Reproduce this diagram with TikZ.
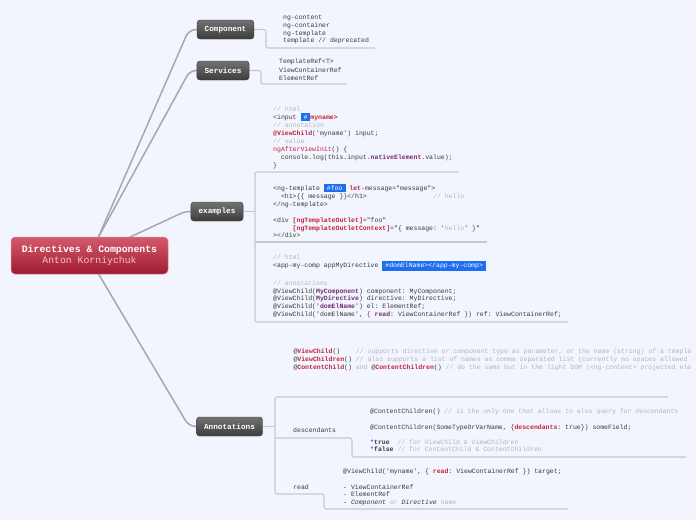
\documentclass[tikz,border=0pt]{standalone}
\usepackage{fontspec}
\setmonofont{Liberation Mono}
\usetikzlibrary{backgrounds}
\definecolor{bgc}{HTML}{F2F5FD}
\definecolor{codetext}{HTML}{3A3A3A}
\definecolor{cmtgray}{HTML}{B2B5C0}
\definecolor{kwred}{HTML}{C4203E}
\definecolor{kwpur}{HTML}{762A6E}
\definecolor{hlblue}{HTML}{1E6EF0}
\definecolor{conngray}{HTML}{A8A8A8}
\definecolor{linegray}{HTML}{C6C8D0}
\definecolor{rootTop}{HTML}{D45A6C}
\definecolor{rootBot}{HTML}{A01A30}
\definecolor{rootSub}{HTML}{F4C2CC}
\definecolor{nodeTop}{HTML}{727272}
\definecolor{nodeBot}{HTML}{3C3C3C}
\newcommand\redkw[1]{\textcolor{kwred}{\bfseries #1}}
\newcommand\purkw[1]{\textcolor{kwpur}{\bfseries #1}}
\newcommand\grycm[1]{\textcolor{cmtgray}{#1}}
\newcommand\bluehl[1]{{\setlength\fboxsep{1.7pt}\colorbox{hlblue}{\hspace{1.3pt}\textcolor{white}{#1}\hspace{1.3pt}}}}
\begin{document}
\begin{tikzpicture}[x=1pt,y=-1pt,
  mainnode/.style={rounded corners=3pt, top color=nodeTop, bottom color=nodeBot,
    draw=nodeBot, line width=0.4pt, text=white,
    font=\fontsize{7.7}{9}\selectfont\ttfamily\bfseries,
    minimum height=19pt, inner xsep=7.6pt, inner ysep=0pt},
  rootnode/.style={rounded corners=4pt, top color=rootTop, bottom color=rootBot,
    draw=rootTop!70!white, line width=0.5pt, text=white, align=center,
    font=\fontsize{9.8}{11.7}\selectfont\ttfamily,
    minimum width=157pt, minimum height=37pt, inner sep=0pt},
  code/.style={anchor=base west, inner sep=0pt,
    font=\fontsize{6.5}{8}\selectfont\ttfamily, text=codetext},
  conn/.style={draw=conngray, line width=1.5pt},
  branch/.style={draw=linegray, line width=1.1pt, rounded corners=2pt}]
\useasboundingbox (0,0) rectangle (696,520);

% main nodes
\node[rootnode] (root) at (89.5,255.5) {{\bfseries Directives \& Components}\\\textcolor{rootSub}{Anton Korniychuk}};
\node[mainnode] (comp) at (225.5,29.5) {Component};
\node[mainnode] (serv) at (223,70.5) {Services};
\node[mainnode] (exam) at (217,211.5) {examples};
\node[mainnode] (anno) at (229.5,426.5) {Annotations};

% Component texts
\node[code] (c1) at (283,19.8) {ng-content};
\node[code] (c2) at (283,27.5) {ng-container};
\node[code] (c3) at (283,35.2) {ng-template};
\node[code] (c4) at (283,42.9) {template // deprecated};

% Services texts
\node[code] (s1) at (279,63.8) {TemplateRef<T>};
\node[code] (s2) at (279,72) {ViewContainerRef};
\node[code] (s3) at (279,80) {ElementRef};

% examples block 1
\node[code] (ea1) at (273,111.3) {\grycm{// html}};
\node[code] (ea2) at (273,119.3) {<input~\bluehl{\#}\redkw{myname>}};
\node[code] (ea3) at (273,127.3) {\grycm{// annotation}};
\node[code] (ea4) at (273,135.3) {\redkw{@ViewChild}('myname') input;};
\node[code] (ea5) at (273,143.3) {\grycm{// value}};
\node[code] (ea6) at (273,151.3) {\textcolor{kwred}{ngAfterViewInit}() \{};
\node[code] (ea7) at (273,159.3) {~~console.log(this.input.\purkw{nativeElement}.value);};
\node[code] (ea8) at (273,167.3) {\}};

% examples block 2
\node[code] (eb1) at (273,190.3) {<ng-template~\bluehl{\#foo}~\redkw{let}-message="message">};
\node[code] (eb2) at (273,198.5) {~~<h1>\{\{~message~\}\}</h1>~~~~~~~~~~~~~~~~~\grycm{// hello}};
\node[code] (eb3) at (273,206.7) {</ng-template>};
\node[code] (eb4) at (273,222) {<div~\redkw{[ngTemplateOutlet]}="foo"};
\node[code] (eb5) at (273,230) {~~~~~\redkw{[ngTemplateOutletContext]}="\{~message:~'\grycm{hello}'~\}"};
\node[code] (eb6) at (273,237.7) {></div>};

% examples block 3
\node[code] (ec1) at (273,259.5) {\grycm{// html}};
\node[code] (ec2) at (273,267.5) {<app-my-comp appMyDirective~\bluehl{\#domElName></app-my-comp>}};
\node[code] (ec3) at (273,285) {\grycm{// annotations}};
\node[code] (ec4) at (273,293) {@ViewChild(\purkw{MyComponent}) component: MyComponent;};
\node[code] (ec5) at (273,300.7) {@ViewChild(\purkw{MyDirective}) directive: MyDirective;};
\node[code] (ec6) at (273,308.5) {@ViewChild('\purkw{domElName}') el: ElementRef;};
\node[code] (ec7) at (273,316.3) {@ViewChild('domElName', \textcolor{kwpur}{\{~\bfseries read}: ViewContainerRef \textcolor{kwpur}{\}}) ref: ViewContainerRef;};

% Annotations block 1 (cut at the right edge, as in the reference)
\node[code] (aa1) at (293.3,353) {@\redkw{ViewChild}()~~~~\grycm{// supports directive or component type as parameter, or the name (string) of a templa}};
\node[code] (aa2) at (293.3,361) {@\redkw{ViewChildren}()~\grycm{// also supports a list of names as comma separated list (currently no spaces allowed}};
\node[code] (aa3) at (293.3,369) {@\redkw{ContentChild}()~\grycm{and}~@\redkw{ContentChildren}()~\grycm{// do the same but in the light DOM (<ng-content> projected ele}};

% descendants
\node[code] (dl) at (293,432) {descendants};
\node[code] (d1) at (370,413) {@ContentChildren()~\grycm{// is the only one that allows to also query for descendants}};
\node[code] (d2) at (370,429) {@ContentChildren(SomeTypeOrVarName, \{\redkw{descendants}: true\}) someField;};
\node[code] (d3) at (370,444) {\textcolor{hlblue}{\bfseries *}\textbf{true}~~\grycm{// for ViewChild \& ViewChildren}};
\node[code] (d4) at (370,451.7) {\textcolor{hlblue}{\bfseries *}\textbf{false}~\grycm{// for ContentChild \& ContentChildren}};

% read
\node[code] (rl) at (293,489) {read};
\node[code] (r1) at (343,473) {@ViewChild('myname', \{ \redkw{read}: ViewContainerRef \}) target;};
\node[code] (r2) at (343,489) {- ViewContainerRef};
\node[code] (r3) at (343,496.7) {- ElementRef};
\node[code] (r4) at (343,504.4) {- \textit{Component}~\grycm{or}~\textit{Directive}~\grycm{name}};

% anchor coordinates
\coordinate (rt1) at (98,238);
\coordinate (rt2) at (128,238);
\coordinate (rb1) at (98,273);

\begin{pgfonlayer}{background}
\fill[bgc] (0,0) rectangle (696,520);
% root connectors
\draw[conn, rounded corners=7pt] (rt1) -- (189,29.5) -- (comp.west);
\draw[conn, rounded corners=6pt] (rt1) -- (190,70.5) -- (serv.west);
\draw[conn, rounded corners=5pt] (rt2) -- (185,211.5) -- (exam.west);
\draw[conn, rounded corners=7pt] (rb1) -- (189,426.5) -- (anno.west);
% Component branch
\draw[branch] (comp.east) -- (266,29.5) -- (266,48) -- (375,48);
% Services branch
\draw[branch] (serv.east) -- (261,70.5) -- (261,84) -- (347,84);
% examples branch
\draw[branch] (exam.east) -- (255,211.5);
\draw[branch] (459,172) -- (255,172) -- (255,322) -- (568,322);
\draw[branch] (255,242) -- (487,242);
% Annotations branch
\draw[branch] (anno.east) -- (275,426.5);
\draw[branch] (668,397) -- (275,397) -- (275,494) -- (324,494) -- (324,509) -- (568,509);
\draw[branch] (275,438) -- (352,438) -- (352,457) -- (686,457);
\end{pgfonlayer}
\end{tikzpicture}
\end{document}
